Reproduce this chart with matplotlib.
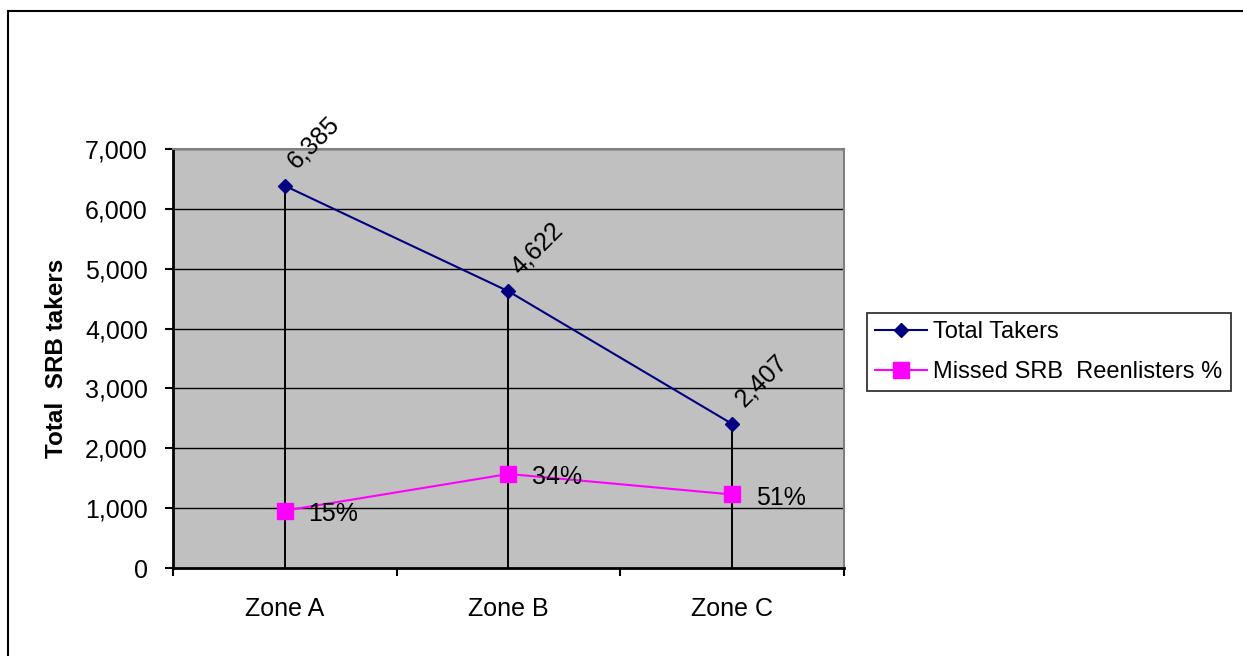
import numpy as np
import matplotlib
matplotlib.use('Agg')
import matplotlib.pyplot as plt
from matplotlib.patches import Rectangle
from matplotlib.ticker import FuncFormatter

plt.rcParams['font.family'] = ['Liberation Sans', 'DejaVu Sans']

zones = ['Zone A', 'Zone B', 'Zone C']
total_takers = [6385, 4622, 2407]
missed_reenlisters = [958, 1571, 1228]
missed_pct = ['15%', '34%', '51%']

FS = 18

fig = plt.figure(figsize=(12.43, 6.56), dpi=100)
ax = fig.add_axes([173/1243, 1 - 568/656, (844-173)/1243, (568-149)/656])
ax.set_facecolor('#c0c0c0')

# categories sit in the middle of each slot
x = np.arange(len(zones)) + 0.5

# horizontal gridlines
for y in range(1000, 7001, 1000):
    ax.axhline(y, color='black', lw=1.0, zorder=1)

# drop lines from the highest point to the axis
tops = np.maximum(total_takers, missed_reenlisters)
ax.vlines(x, 0, tops, color='black', lw=1.4, zorder=2)

ax.plot(x, total_takers, color='#000080', lw=1.5, marker='D', ms=7.5,
        label='Total Takers', zorder=4)
ax.plot(x, missed_reenlisters, color='#ff00ff', lw=1.5, marker='s', ms=11.5,
        label='Missed SRB  Reenlisters %', zorder=3)

for xi, v in zip(x, total_takers):
    ax.annotate(f'{v:,}', (xi, v), xytext=(11, 9), textcoords='offset points',
                rotation=45, rotation_mode='anchor', ha='left', va='bottom',
                fontsize=FS)
for xi, v, p in zip(x, missed_reenlisters, missed_pct):
    ax.annotate(p, (xi, v), xytext=(17, -2.5), textcoords='offset points',
                ha='left', va='center', fontsize=FS)

ax.set_xlim(0, 3)
ax.set_ylim(0, 7000)
ax.set_yticks(range(0, 7001, 1000))
ax.yaxis.set_major_formatter(FuncFormatter(lambda v, pos: f'{int(v):,}'))
ax.tick_params(axis='y', direction='out', length=6, width=1.5, pad=12,
               labelsize=FS)

ax.set_xticks([0, 1, 2, 3])
ax.set_xticklabels([])
ax.set_xticks(x, minor=True)
ax.set_xticklabels(zones, minor=True)
ax.tick_params(axis='x', which='major', direction='out', length=6, width=1.5)
ax.tick_params(axis='x', which='minor', length=0, pad=21, labelsize=FS)

ax.spines['left'].set_linewidth(2)
ax.spines['bottom'].set_linewidth(2)
ax.spines['top'].set_color('#808080')
ax.spines['right'].set_color('#808080')
ax.spines['top'].set_linewidth(1.5)
ax.spines['right'].set_linewidth(1.5)

ax.set_ylabel('Total  SRB takers', fontsize=17.5, fontweight='bold', labelpad=12)

leg = fig.legend(loc='upper left', bbox_to_anchor=(867/1243, 1 - 313/656),
                 borderaxespad=0, fontsize=17, frameon=True, fancybox=False,
                 handlelength=2.2, handletextpad=0.25, labelspacing=0.75,
                 borderpad=0.35)
leg.get_frame().set_edgecolor('black')
leg.get_frame().set_linewidth(1.3)

# chart border, only top and left edges fall inside the image
fig.patches.append(Rectangle((8/1243, -0.1), 1.1, 1.1 - 10.5/656,
                             transform=fig.transFigure, fill=False,
                             edgecolor='black', lw=1.5))

fig.savefig('out.png', dpi=100)
